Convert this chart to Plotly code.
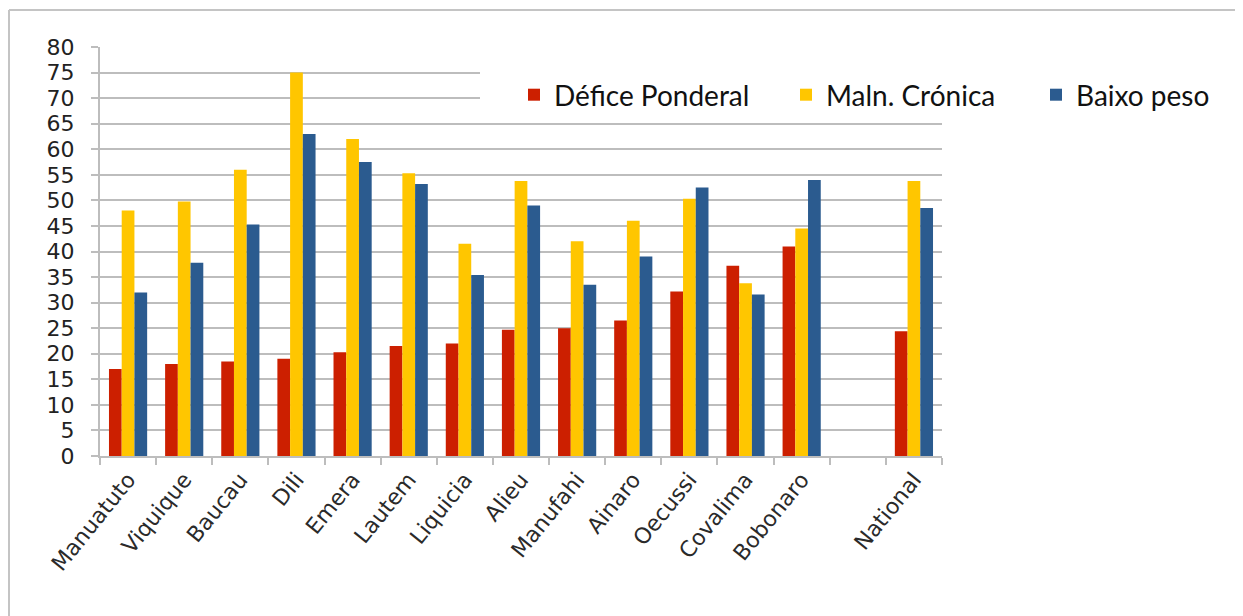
import plotly.graph_objects as go

categories = ["Manuatuto", "Viquique", "Baucau", "Dili", "Emera", "Lautem", "Liquicia",
              "Alieu", "Manufahi", "Ainaro", "Oecussi", "Covalima", "Bobonaro", " ", "National"]
defice_ponderal = [17.0, 18.0, 18.5, 19.0, 20.3, 21.5, 22.0, 24.7, 25.0, 26.5, 32.2, 37.2, 41.0, None, 24.4]
maln_cronica = [48.0, 49.8, 56.0, 75.0, 62.0, 55.3, 41.5, 53.8, 42.0, 46.0, 50.3, 33.8, 44.5, None, 53.8]
baixo_peso = [32.0, 37.8, 45.3, 63.0, 57.5, 53.2, 35.4, 49.0, 33.5, 39.0, 52.5, 31.6, 54.0, None, 48.5]
series_names = ["Défice Ponderal", "Maln. Crónica", "Baixo peso"]
y_ticks = list(range(0, 81, 5))

colors = ["#CC1F00", "#FFC600", "#2B5B8F"]
OFF = 8  # page body margin
W, H = 1243 - OFF, 616 - OFF
L, T = 100 - OFF, 47 - OFF
pw, ph = 842, 409
R, B = W - L - pw, H - T - ph

def px(x):  # reference-screen x -> paper
    return (x - OFF - L) / pw
def py(y):  # reference-screen y -> paper
    return (T + ph - (y - OFF)) / ph

legend_names = ["legend", "legend2", "legend3"]
fig = go.Figure()
for name, vals, c, lg in zip(series_names, [defice_ponderal, maln_cronica, baixo_peso], colors, legend_names):
    fig.add_trace(go.Bar(x=categories, y=vals, name=name, legend=lg,
                         marker=dict(color=c, line=dict(width=0))))

leg_font = dict(family="Lato", size=28, color="#111111")
def leg(x):
    return dict(x=px(x), y=py(95), xanchor="left", yanchor="middle", orientation="h",
                bgcolor="rgba(0,0,0,0)", font=leg_font)

fig.update_layout(
    width=W, height=H,
    margin=dict(l=L, r=R, t=T, b=B, pad=0),
    paper_bgcolor="white", plot_bgcolor="white",
    barmode="group", bargap=0.32, bargroupgap=0,
    font=dict(family="DejaVu Sans", color="#222222"),
    legend=leg(514), legend2=leg(786), legend3=leg(1036),
    showlegend=True,
    shapes=[
        dict(type="rect", xref="paper", yref="paper", x0=px(480), x1=1.0, y0=py(110), y1=py(62),
             fillcolor="white", line=dict(width=0), layer="above"),
        dict(type="line", xref="paper", yref="paper", x0=px(9), x1=px(1260), y0=py(10), y1=py(10),
             line=dict(color="#C4C4C4", width=2)),
        dict(type="line", xref="paper", yref="paper", x0=px(9), x1=px(9), y0=py(10), y1=py(630),
             line=dict(color="#C4C4C4", width=2)),
    ],
)
fig.update_yaxes(range=[0, 80], tickvals=y_ticks, showgrid=True, gridcolor="#BDBDBD", gridwidth=2,
                 showline=True, linecolor="#BDBDBD", linewidth=2, ticks="outside", ticklen=7,
                 tickcolor="#BDBDBD", tickwidth=2, zeroline=False,
                 tickfont=dict(family="DejaVu Sans", size=22, color="#222222"), ticklabelstandoff=12)
fig.update_xaxes(type="category", showgrid=False, showline=True, linecolor="#BDBDBD", linewidth=2,
                 ticks="outside", tickson="boundaries", ticklen=7, tickcolor="#BDBDBD", tickwidth=2,
                 tickangle=-51, tickfont=dict(family="DejaVu Sans", size=22, color="#2A2A2A"),
                 ticklabelstandoff=0)

fig.write_html("out.html")
